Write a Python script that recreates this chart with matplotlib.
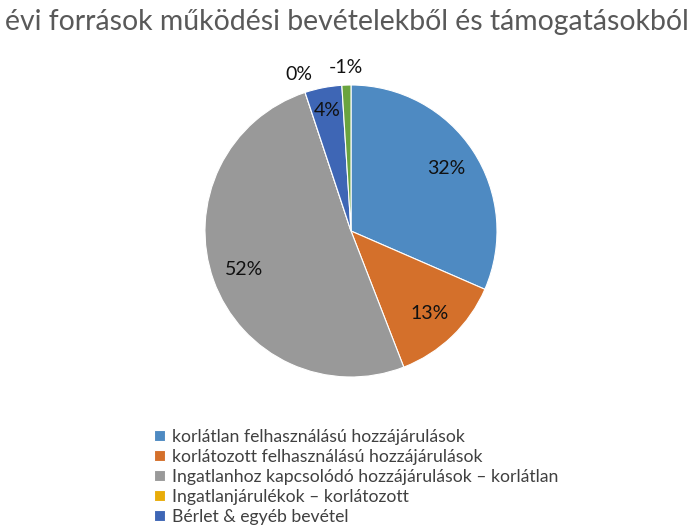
import matplotlib
matplotlib.use("Agg")
import matplotlib.pyplot as plt
import numpy as np

title = "évi források működési bevételekből és támogatásokból"
categories = [
    "korlátlan felhasználású hozzájárulások",
    "korlátozott felhasználású hozzájárulások",
    "Ingatlanhoz kapcsolódó hozzájárulások – korlátlan",
    "Ingatlanjárulékok – korlátozott",
    "Bérlet & egyéb bevétel",
    "Egyéb",
]
values = [31.6, 12.6, 50.9, 0.0, 4.1, -1.0]
colors = ["#4E8AC2", "#D4702B", "#999999", "#E8AC0A", "#3E66B5", "#6AA43F"]
label_dist = [0.78, 0.78, 0.78, 1.13, 0.84, 1.12]
legend_count = 5

plt.rcParams['font.family'] = ['Lato', 'DejaVu Sans']

W, H = 700, 529
fig = plt.figure(figsize=(W / 100, H / 100), dpi=100)
cx, cy, r = 351, 231, 146
ax = fig.add_axes([(cx - r) / W, (H - cy - r) / H, 2 * r / W, 2 * r / H])

sizes = np.abs(values)
total_signed = sum(values)
wedges, _ = ax.pie(sizes, colors=colors, startangle=90, counterclock=False,
                   radius=1, wedgeprops=dict(edgecolor="white", linewidth=0.8))
ax.set_xlim(-1, 1)
ax.set_ylim(-1, 1)
ax.set_aspect("equal")
ax.axis("off")

for w, v, d in zip(wedges, values, label_dist):
    ang = np.deg2rad((w.theta1 + w.theta2) / 2)
    x, y = d * np.cos(ang), d * np.sin(ang)
    pct = round(v / total_signed * 100)
    ax.text(x, y, f"{pct}%", ha="center", va="center", fontsize=14,
            color="#111111", clip_on=False)

fig.text(5 / W, 1 - 22 / H, title, ha="left", va="center", fontsize=20.4,
         color="#595959")

leg = fig.legend(wedges[:legend_count], categories[:legend_count],
                 loc="upper left", bbox_to_anchor=(154 / W, 1 - 429 / H),
                 frameon=False, fontsize=12.7, handlelength=0.6,
                 handleheight=0.6, handletextpad=0.4, labelspacing=0.22,
                 borderpad=0, borderaxespad=0, labelcolor="#404040")

fig.savefig("out.png", dpi=100)
